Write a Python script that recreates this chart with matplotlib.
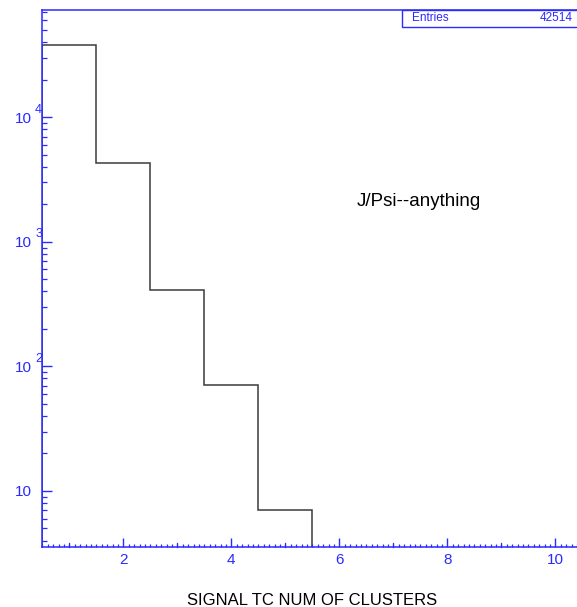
import numpy as np
import matplotlib
matplotlib.use("Agg")
import matplotlib.pyplot as plt
from matplotlib.ticker import FixedLocator, FuncFormatter, MultipleLocator, LogLocator, NullFormatter
from matplotlib.patches import Rectangle

plt.rcParams['font.family'] = ['Liberation Sans', 'DejaVu Sans']

# Histogram content: number of TC clusters per signal event
bin_edges = [0.5, 1.5, 2.5, 3.5, 4.5, 5.5]
bin_counts = [37743, 4280, 413, 71, 7]
n_entries = 42514
title_text = "J/Psi--anything"
x_title = "SIGNAL TC NUM OF CLUSTERS"
x_major = [2, 4, 6, 8, 10]
y_major = [10, 100, 1000, 10000]

BLUE = '#2a2aff'
LINE = '#3a3a3a'

fig = plt.figure(figsize=(5.77, 6.07), dpi=100)
W, H = 577.0, 607.0
ax_l, ax_r, ax_t, ax_b = 42.3, 582.3, 9.5, 547.0
ax = fig.add_axes([ax_l / W, 1 - ax_b / H, (ax_r - ax_l) / W, (ax_b - ax_t) / H])

ax.stairs(bin_counts, bin_edges, baseline=1e-3, color=LINE, linewidth=1.1)

ax.set_yscale('log')
ax.set_xlim(0.5, 10.5)
ax.set_ylim(3.55, 7.33e4)

for s in ax.spines.values():
    s.set_color(BLUE)
    s.set_linewidth(1.1)
ax.spines['right'].set_visible(False)

# x ticks: long at even integers, medium at odd integers, short every 0.1
ax.xaxis.set_major_locator(FixedLocator(x_major))
ax.xaxis.set_minor_locator(MultipleLocator(0.1))
ax.tick_params(axis='x', which='major', direction='in', length=6.5, width=1.0,
               color=BLUE, labelcolor=BLUE, labelsize=11, pad=4.5,
               top=False, bottom=True)
ax.tick_params(axis='x', which='minor', direction='in', length=2.2, width=0.9,
               color=BLUE, top=False, bottom=True)
for xv in range(1, 11, 2):
    ax.plot([xv, xv], [0, 0.0075], transform=ax.get_xaxis_transform(),
            color=BLUE, linewidth=0.9, clip_on=False)

# y ticks: decades labelled "10" with the exponent written above-right
ax.yaxis.set_major_locator(FixedLocator(y_major))
ax.yaxis.set_major_formatter(FuncFormatter(lambda v, p: '10'))
ax.yaxis.set_minor_locator(LogLocator(base=10, subs=np.arange(2, 10)))
ax.yaxis.set_minor_formatter(NullFormatter())
ax.tick_params(axis='y', which='major', direction='in', length=7.2, width=1.0,
               color=BLUE, labelcolor=BLUE, labelsize=11, pad=7.8,
               right=False, left=True)
ax.tick_params(axis='y', which='minor', direction='in', length=3.6, width=0.9,
               color=BLUE, right=False, left=True)
for d in y_major[1:]:
    ax.annotate(str(int(round(np.log10(d)))), xy=(0, d),
                xycoords=('axes fraction', 'data'), xytext=(-5.2, 5.3),
                textcoords='offset points', ha='left', va='center',
                fontsize=9, color=BLUE, annotation_clip=False)

ax.set_xlabel(x_title, fontsize=12, color='black', labelpad=18.5)

# statistics box
box_h = 0.032
ax.add_patch(Rectangle((2 / 3, 1 - box_h), 1 / 3, box_h, transform=ax.transAxes,
                       facecolor='white', edgecolor=BLUE, linewidth=1.0,
                       clip_on=False, zorder=5))
ax.text(0.684, 1 - box_h / 2, 'Entries', transform=ax.transAxes, ha='left',
        va='center', fontsize=8.5, color=BLUE, zorder=6)
ax.text(0.982, 1 - box_h / 2, str(n_entries), transform=ax.transAxes, ha='right',
        va='center', fontsize=8.5, color=BLUE, zorder=6)

ax.text((419 - ax_l) / (ax_r - ax_l), (ax_b - 206) / (ax_b - ax_t), title_text,
        transform=ax.transAxes, ha='center', va='baseline', fontsize=13.5,
        color='black')

fig.savefig('out.png', dpi=100)
